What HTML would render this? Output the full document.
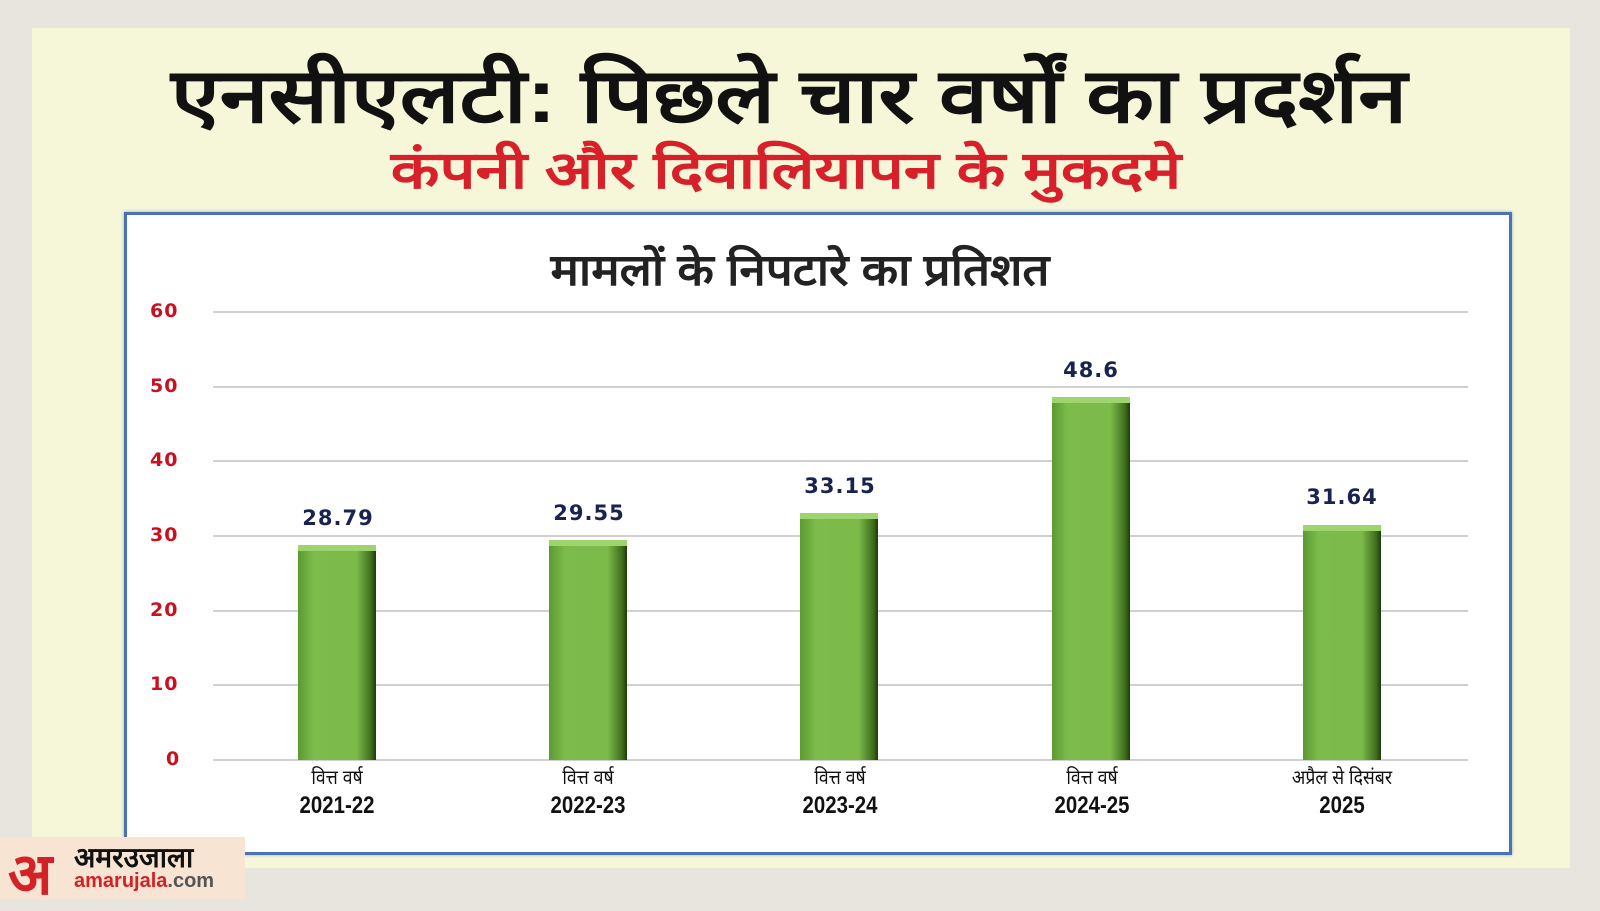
<!DOCTYPE html><html><head><meta charset="utf-8"><style>
body{margin:0;width:1600px;height:899px;background:#e8e5de;position:relative;overflow:hidden;font-family:"Liberation Sans","Noto Sans CJK SC",sans-serif}
.panel{position:absolute;left:32px;top:28px;width:1538px;height:840px;background:#f5f7d8}
.t{position:absolute;left:0;width:1600px;text-align:center;font-weight:bold;white-space:nowrap}
.box{position:absolute;left:124px;top:212px;width:1382px;height:637px;background:#fff;border:3px solid #4a72b4;box-shadow:0 0 3px #9ab}
.g{position:absolute;left:213px;width:1255px;height:2px;background:#d0d0d0}
.y{position:absolute;left:150px;width:40px;text-align:left;color:#c8101e;font-weight:bold;font-size:19px;font-family:"DejaVu Sans",sans-serif;letter-spacing:1px}
.bar{position:absolute;width:78px;background:linear-gradient(90deg,#5a9a30 0%,#7cbb4c 20%,#7cba4a 75%,#3e6d1c 94%,#1e3a0a 100%);box-shadow:inset 0 6px 0 #9ed46e}
.v{position:absolute;width:140px;text-align:center;color:#1a2350;font-weight:bold;font-size:21px;font-family:"DejaVu Sans",sans-serif;letter-spacing:1px}
.xl{position:absolute;width:220px;text-align:center;color:#111;top:764px;line-height:28px}
.xl span{display:block;font-size:20px;transform:scaleX(.88)}
.xl b{display:block;font-size:24px;transform:scaleX(.85)}
</style></head><body>
<div class="panel"></div>
<div class="t" style="top:42px;left:-11px;font-size:76px;color:#111;transform:scaleX(1.16)">एनसीएलटी: पिछले चार वर्षों का प्रदर्शन</div>
<div class="t" style="top:133px;left:-14px;font-size:52px;color:#d8202a;transform:scaleX(1.22)">कंपनी और दिवालियापन के मुकदमे</div>
<div class="box"></div>
<div class="t" style="top:238px;font-size:44px;color:#222;transform:scaleX(1.08)">मामलों के निपटारे का प्रतिशत</div>
<div class="g" style="top:311px"></div><div class="g" style="top:386px"></div><div class="g" style="top:460px"></div><div class="g" style="top:535px"></div><div class="g" style="top:610px"></div><div class="g" style="top:684px"></div><div class="g" style="top:759px"></div>
<div class="y" style="top:300px">60</div><div class="y" style="top:375px">50</div><div class="y" style="top:449px">40</div><div class="y" style="top:524px">30</div><div class="y" style="top:599px">20</div><div class="y" style="top:673px">10</div><div class="y" style="top:748px;left:166px">0</div>
<div class="bar" style="left:298px;top:545px;height:215px"></div>
<div class="bar" style="left:549px;top:540px;height:220px"></div>
<div class="bar" style="left:800px;top:513px;height:247px"></div>
<div class="bar" style="left:1052px;top:397px;height:363px"></div>
<div class="bar" style="left:1303px;top:525px;height:235px"></div>
<div class="v" style="left:268px;top:506px">28.79</div>
<div class="v" style="left:519px;top:501px">29.55</div>
<div class="v" style="left:770px;top:474px">33.15</div>
<div class="v" style="left:1021px;top:358px">48.6</div>
<div class="v" style="left:1272px;top:485px">31.64</div>
<div class="xl" style="left:227px"><span>वित्त वर्ष</span><b>2021-22</b></div>
<div class="xl" style="left:478px"><span>वित्त वर्ष</span><b>2022-23</b></div>
<div class="xl" style="left:730px"><span>वित्त वर्ष</span><b>2023-24</b></div>
<div class="xl" style="left:982px"><span>वित्त वर्ष</span><b>2024-25</b></div>
<div class="xl" style="left:1232px"><span>अप्रैल से दिसंबर</span><b>2025</b></div>
<div style="position:absolute;left:0;top:837px;width:245px;height:62px;background:#f7e4d2"></div>
<div style="position:absolute;left:8px;top:832px;font-size:58px;font-weight:bold;color:#d42027">अ</div>
<div style="position:absolute;left:74px;top:838px;font-size:28px;font-weight:bold;color:#111">अमरउजाला</div>
<div style="position:absolute;left:74px;top:870px;font-size:20px;font-weight:bold;color:#d42027">amarujala<span style="color:#555">.com</span></div>
</body></html>
